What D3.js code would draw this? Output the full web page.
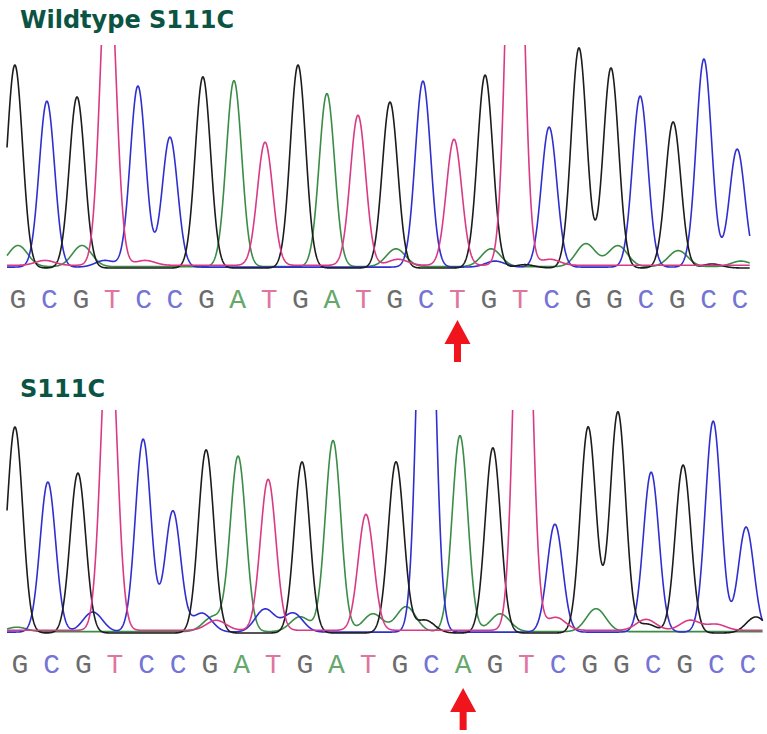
<!DOCTYPE html>
<html>
<head>
<meta charset="utf-8">
<script src="https://cdn.jsdelivr.net/npm/d3@7"></script>
<style>
  html, body { margin: 0; padding: 0; background: #fff; }
  svg { display: block; }
</style>
</head>
<body>
<svg id="chart" width="767" height="734"></svg>
<script>
'use strict';

// ─── Data ────────────────────────────────────────────────────────────────────
// Base calls
const wtBases  = 'GCGTCCGATGATGCTGTCGGCGCC'.split('');
const mutBases = 'GCGTCCGATGATGCAGTCGGCGCC'.split('');
const mutationIndex = 14;

// Main peaks: position in base-call units, signal height (1000 = top of panel)
const wtPeakPos    = [-0.10, 0.92, 1.88, 2.87, 3.82, 4.84, 5.89, 6.88, 7.87, 8.92, 9.84, 10.83,
                      11.85, 12.90, 13.89, 14.88, 15.83, 16.92, 17.87, 18.89, 19.82, 20.87, 21.85, 22.91];
const wtPeakHeight = [910, 744, 767, 1450, 812, 583, 857, 834, 552, 910, 776, 673,
                      744, 834, 565, 865, 2400, 628, 987, 897, 767, 655, 933, 529];

const mutPeakPos    = [-0.16, 0.88, 1.83, 2.81, 3.89, 4.83, 5.88, 6.89, 7.84, 8.91, 9.89, 10.93,
                       11.88, 12.83, 13.90, 14.94, 15.89, 16.90, 17.95, 18.89, 19.94, 20.95, 21.90, 22.94];
const mutPeakHeight = [924, 673, 717, 1450, 865, 543, 821, 785, 677, 767, 857, 520,
                       767, 2400, 879, 830, 2400, 484, 924, 991, 717, 753, 946, 471];

// Minor background peaks
const wtMinorBase   = ['A', 'T', 'A', 'C', 'T', 'A', 'T', 'A', 'C', 'G', 'T', 'A', 'A', 'A', 'G', 'A'];
const wtMinorPos    = [0.00, 0.86, 2.04, 2.77, 4.05, 12.04, 12.11, 15.07, 15.20, 16.15, 16.95, 18.09, 19.11, 21.03, 22.11, 23.03];
const wtMinorHeight = [95, 22, 95, 30, 22, 80, 27, 80, 27, 15, 27, 103, 94, 72, 18, 25];

const mutMinorBase   = ['A', 'C', 'C', 'A', 'T', 'C', 'C', 'A', 'A', 'A', 'G', 'A', 'T', 'A', 'T', 'G', 'T', 'T', 'G'];
const mutMinorPos    = [-0.10, 2.30, 5.75, 6.10, 6.20, 7.74, 8.63, 8.85, 11.15, 12.20, 12.79, 15.17, 16.93, 18.20, 19.78, 19.80, 21.17, 21.99, 23.25];
const mutMinorHeight = [20, 90, 85, 67, 45, 103, 85, 67, 80, 112, 58, 80, 58, 103, 49, 40, 45, 27, 72];

// Trace extent in base-call units
const wtRange  = [-0.35, 23.32];
const mutRange = [-0.41, 23.47];

// ─── Styling ─────────────────────────────────────────────────────────────────
const traceColor  = { G: '#1c1c1c', C: '#2f2fcf', A: '#3a8c46', T: '#d93a85' };
const letterColor = { G: '#6c6c6c', C: '#7474d4', A: '#66a86c', T: '#e0759f' };
const baseOffset  = { G: 0, C: 4, A: 6, T: 12 };
const drawOrder   = ['A', 'C', 'G', 'T'];
const SIGMA = 0.245;

const svg = d3.select('#chart');

const panels = [
  { title: 'Wildtype S111C', titleY: 28, top: 45, base: 268, letterY: 308, arrowTip: 320,
    xRange: [18, 740], bases: wtBases, pos: wtPeakPos, h: wtPeakHeight,
    mBase: wtMinorBase, mPos: wtMinorPos, mH: wtMinorHeight, extent: wtRange },
  { title: 'S111C', titleY: 397, top: 410, base: 633, letterY: 673, arrowTip: 688,
    xRange: [20, 748], bases: mutBases, pos: mutPeakPos, h: mutPeakHeight,
    mBase: mutMinorBase, mPos: mutMinorPos, mH: mutMinorHeight, extent: mutRange },
];

panels.forEach((p, pi) => {
  const x = d3.scaleLinear().domain([0, p.bases.length - 1]).range(p.xRange);
  const y = d3.scaleLinear().domain([0, 1000]).range([p.base, p.top]);

  // Title
  svg.append('text')
    .attr('x', 20).attr('y', p.titleY)
    .attr('font-family', 'DejaVu Sans, sans-serif')
    .attr('font-weight', 'bold')
    .attr('font-size', 24)
    .attr('fill', '#0b5444')
    .text(p.title);

  svg.append('clipPath').attr('id', 'clip' + pi)
    .append('rect')
    .attr('x', 0).attr('y', p.top)
    .attr('width', 767).attr('height', p.base - p.top + 10);

  // Build each channel as a sum of gaussian peaks
  const peaksOf = b => {
    const list = [];
    p.bases.forEach((bb, i) => { if (bb === b) list.push([p.pos[i], p.h[i], SIGMA]); });
    p.mBase.forEach((bb, i) => { if (bb === b) list.push([p.mPos[i], p.mH[i], SIGMA * 1.25]); });
    return list;
  };
  const samples = d3.range(p.extent[0], p.extent[1], 0.01);

  const line = d3.line().x(d => x(d[0])).y(d => y(d[1]));

  const g = svg.append('g').attr('clip-path', `url(#clip${pi})`);
  drawOrder.forEach(b => {
    const pk = peaksOf(b);
    const pts = samples.map(s => {
      let v = baseOffset[b];
      pk.forEach(([c, hh, sg]) => { v += hh * Math.exp(-((s - c) ** 2) / (2 * sg * sg)); });
      return [s, v];
    });
    g.append('path')
      .datum(pts)
      .attr('d', line)
      .attr('fill', 'none')
      .attr('stroke', traceColor[b])
      .attr('stroke-width', 1.6)
      .attr('stroke-linejoin', 'round');
  });

  // Base call letters
  svg.append('g').selectAll('text')
    .data(p.bases)
    .join('text')
    .attr('x', (d, i) => x(i))
    .attr('y', p.letterY)
    .attr('text-anchor', 'middle')
    .attr('font-family', 'Liberation Mono, monospace')
    .attr('font-size', 28)
    .attr('fill', d => letterColor[d])
    .text(d => d);

  // Red arrow under the mutated base
  const ax = x(mutationIndex), t = p.arrowTip;
  svg.append('path')
    .attr('d', `M${ax},${t} L${ax + 13},${t + 24} L${ax + 3.5},${t + 24} L${ax + 3.5},${t + 42}
                L${ax - 3.5},${t + 42} L${ax - 3.5},${t + 24} L${ax - 13},${t + 24} Z`)
    .attr('fill', '#f0141c');
});
</script>
</body>
</html>
